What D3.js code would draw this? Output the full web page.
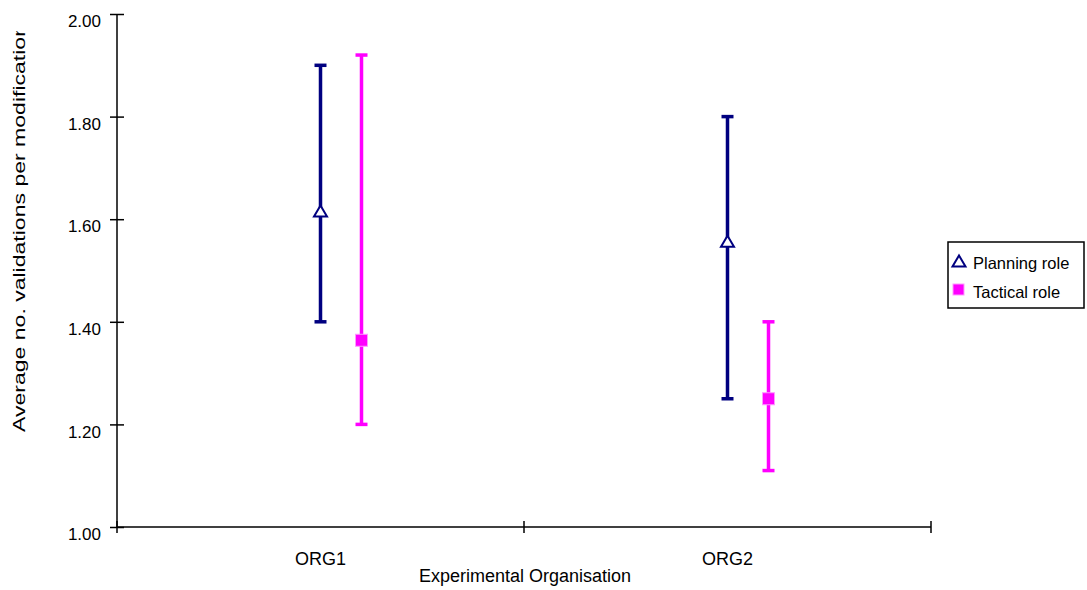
<!DOCTYPE html>
<html>
<head>
<meta charset="utf-8">
<script src="https://cdn.jsdelivr.net/npm/d3@7"></script>
<style>
  body { margin: 0; background: #fff; }
  svg text { font-family: Arial, "Liberation Sans", sans-serif; fill: #000; }
</style>
</head>
<body>
<div id="container"></div>
<script>
// values
const categories = ["ORG1", "ORG2"];
const seriesNames = ["Planning role", "Tactical role"];
const planningMean = [1.616, 1.557];
const planningLow = [1.40, 1.25];
const planningHigh = [1.90, 1.80];
const tacticalMean = [1.364, 1.25];
const tacticalLow = [1.20, 1.11];
const tacticalHigh = [1.92, 1.40];
const yTicks = [1.00, 1.20, 1.40, 1.60, 1.80, 2.00];

const width = 1087, height = 590;
const margin = { top: 14, left: 117, right: 156, bottom: 63 };

const svg = d3.select("#container").append("svg")
    .attr("width", width)
    .attr("height", height);

let x = d3.scaleBand()
    .domain(categories)
    .range([margin.left, width - margin.right]);

// position of each series inside a category
let xs = d3.scalePoint()
    .domain(seriesNames)
    .range([0, 41]);

let y = d3.scaleLinear()
    .domain([1, 2])
    .range([height - margin.bottom, margin.top]);

// y axis
let yAxis = svg.append("g")
    .attr("transform", `translate(${margin.left},0)`)
    .call(d3.axisLeft(y).tickValues(yTicks).tickFormat(d3.format(".2f")).tickSize(7).tickPadding(9));
yAxis.select(".domain").attr("stroke", "#000").attr("stroke-width", 1.5).attr("d", `M0,${y(1)}V${y(2)}`);
yAxis.selectAll(".tick line").attr("x1", 7).attr("x2", -7).attr("stroke", "#000").attr("stroke-width", 1.5);
yAxis.selectAll(".tick text").attr("font-size", 17).attr("dy", "0.75em").attr("font-family", null);

// x axis: ticks between categories, labels drawn separately
let xEdges = categories.map(c => x(c)).concat([x.range()[1]]);
let xAxis = svg.append("g").attr("transform", `translate(0,${y(1)})`);
xAxis.append("line")
    .attr("x1", x.range()[0]).attr("x2", x.range()[1])
    .attr("stroke", "#000").attr("stroke-width", 1.5);
xAxis.selectAll(".xt").data(xEdges).enter().append("line")
    .attr("class", "xt")
    .attr("x1", d => d).attr("x2", d => d)
    .attr("y1", -6).attr("y2", 6)
    .attr("stroke", "#000").attr("stroke-width", 1.5);
xAxis.selectAll(".xl").data(categories).enter().append("text")
    .attr("class", "xl")
    .attr("x", d => x(d) + x.bandwidth() / 2)
    .attr("y", 38)
    .attr("text-anchor", "middle")
    .attr("font-size", 18)
    .text(d => d);

svg.append("text")
    .attr("x", 525).attr("y", 582)
    .attr("text-anchor", "middle")
    .attr("font-size", 18)
    .text("Experimental Organisation");

// y title, the end of it is cut off in the original
svg.append("clipPath").attr("id", "ylabclip")
    .append("rect").attr("x", 0).attr("y", 31).attr("width", 60).attr("height", 500);
svg.append("g").attr("clip-path", "url(#ylabclip)")
  .append("text")
    .attr("transform", "translate(25,432) rotate(-90)")
    .attr("font-size", 16)
    .attr("textLength", 408)
    .attr("lengthAdjust", "spacingAndGlyphs")
    .text("Average no. validations per modification");

const series = [
    { name: seriesNames[0], mean: planningMean, low: planningLow, high: planningHigh, color: "#000080" },
    { name: seriesNames[1], mean: tacticalMean, low: tacticalLow, high: tacticalHigh, color: "#FF00FF" }
];

function trianglePath(cx, cy) {
    return `M${cx},${cy - 5.5}L${cx + 6.5},${cy + 5.5}L${cx - 6.5},${cy + 5.5}Z`;
}

series.forEach((s, si) => {
    let rows = categories.map((c, i) => ({ c: c, m: s.mean[i], lo: s.low[i], hi: s.high[i] }));
    let cx = d => x(d.c) + x.bandwidth() / 2 + xs(s.name);
    let g = svg.append("g");
    g.selectAll(".bar").data(rows).enter().append("line")
        .attr("x1", cx).attr("x2", cx)
        .attr("y1", d => y(d.lo)).attr("y2", d => y(d.hi))
        .attr("stroke", s.color).attr("stroke-width", 3.5);
    g.selectAll(".capHi").data(rows).enter().append("line")
        .attr("x1", d => cx(d) - 6).attr("x2", d => cx(d) + 6)
        .attr("y1", d => y(d.hi)).attr("y2", d => y(d.hi))
        .attr("stroke", s.color).attr("stroke-width", 3.5);
    g.selectAll(".capLo").data(rows).enter().append("line")
        .attr("x1", d => cx(d) - 6).attr("x2", d => cx(d) + 6)
        .attr("y1", d => y(d.lo)).attr("y2", d => y(d.lo))
        .attr("stroke", s.color).attr("stroke-width", 3.5);
    if (si === 0) {
        g.selectAll(".mk").data(rows).enter().append("path")
            .attr("d", d => trianglePath(cx(d), y(d.m)))
            .attr("fill", "#fff").attr("stroke", s.color).attr("stroke-width", 2);
    } else {
        g.selectAll(".mk").data(rows).enter().append("rect")
            .attr("x", d => cx(d) - 6).attr("y", d => y(d.m) - 6)
            .attr("width", 12).attr("height", 12)
            .attr("fill", s.color).attr("stroke", "#ff99ff").attr("stroke-width", 1);
    }
});

// legend
let legend = svg.append("g").attr("transform", "translate(948,242)");
legend.append("rect")
    .attr("width", 136).attr("height", 66)
    .attr("fill", "#fff").attr("stroke", "#000").attr("stroke-width", 1.5);
legend.append("path")
    .attr("d", trianglePath(11, 19))
    .attr("fill", "#fff").attr("stroke", series[0].color).attr("stroke-width", 2);
legend.append("rect")
    .attr("x", 5).attr("y", 42).attr("width", 11).attr("height", 11)
    .attr("fill", series[1].color).attr("stroke", "#ff99ff").attr("stroke-width", 1);
legend.selectAll(".lt").data(seriesNames).enter().append("text")
    .attr("x", 25)
    .attr("y", (d, i) => 27 + i * 29)
    .attr("font-size", 16.5)
    .text(d => d);
</script>
</body>
</html>
